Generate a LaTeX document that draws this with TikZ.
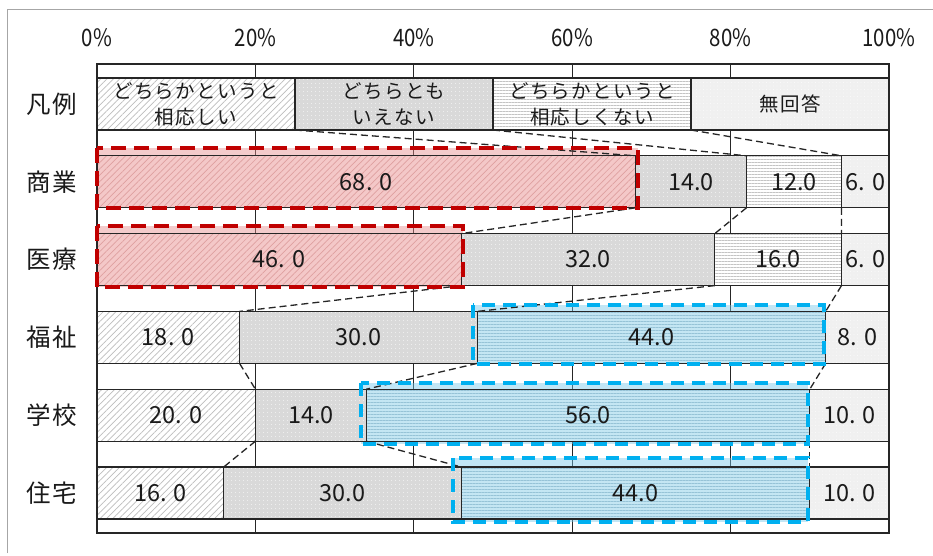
\documentclass[tikz,border=0pt]{standalone}
\usepackage{fontspec}
\setmainfont{Noto Sans CJK JP}
\newfontfamily\lgfont[LetterSpace=7]{Noto Sans CJK JP}
\newfontfamily\rowfont[LetterSpace=6]{Noto Sans CJK JP}
\newfontfamily\axfont[FakeStretch=0.85]{Noto Sans CJK JP}
\usetikzlibrary{patterns.meta}
\definecolor{bdr}{HTML}{262626}
\definecolor{txt}{HTML}{1A1A1A}
\definecolor{hatchc}{HTML}{BDBDBD}
\definecolor{grayB}{HTML}{D9D9D9}
\definecolor{grayD}{HTML}{F0F0F0}
\definecolor{hlines}{HTML}{C4C4C4}
\definecolor{framec}{HTML}{A6A6A6}
\definecolor{redc}{HTML}{C00000}
\definecolor{bluec}{HTML}{00B0F0}
\definecolor{pinkf}{RGB}{230,140,140}
\definecolor{bluef}{RGB}{120,200,235}
\definecolor{pinkbar}{RGB}{244,200,200}
\definecolor{pinkhatch}{RGB}{222,160,160}
\definecolor{bluebar}{RGB}{196,230,243}
\definecolor{bluehatch}{RGB}{150,195,215}
\newcommand\seg[6]{%
  \node[#5, anchor=west, minimum width={#3pt-#2pt}, minimum height=52pt] (#1) at (#2,#4) {#6};}
\begin{document}
\begin{tikzpicture}[x=1pt,y=-1pt,
  segbase/.style={draw=bdr, line width=1.3pt, inner sep=0pt, outer sep=0pt, text=txt,
    align=center, font=\fontsize{23.5}{27}\selectfont},
  cA/.style={segbase, preaction={fill=white},
    pattern={Lines[angle=45,distance=4.5pt,line width=0.7pt]}, pattern color=hatchc},
  cB/.style={segbase, preaction={fill=grayB},
    pattern={Dots[distance=4pt,radius=0.55pt]}, pattern color=white},
  cC/.style={segbase, preaction={fill=white},
    pattern={Lines[angle=0,distance=3pt,line width=0.6pt]}, pattern color=hlines},
  cD/.style={segbase, preaction={fill=grayD},
    pattern={Dots[distance=3.5pt,radius=0.45pt]}, pattern color=white},
  hA/.style={segbase, preaction={fill=pinkbar},
    pattern={Lines[angle=45,distance=4.5pt,line width=0.7pt]}, pattern color=pinkhatch},
  hC/.style={segbase, preaction={fill=bluebar},
    pattern={Lines[angle=0,distance=3pt,line width=0.6pt]}, pattern color=bluehatch},
  lgt/.style={font=\lgfont\fontsize{19.5}{26}\selectfont},
  rowlab/.style={text=txt, font=\rowfont\fontsize{24.5}{24.5}\selectfont},
  axlab/.style={text=txt, font=\axfont\fontsize{24}{24}\selectfont},
  conn/.style={draw=bdr, line width=1.3pt, dash pattern=on 7pt off 4pt},
  redband/.style={fill=pinkf, fill opacity=0.45},
  blueband/.style={fill=bluef, fill opacity=0.45},
  redframe/.style={draw=redc, line width=3.8pt, dash pattern=on 15pt off 8pt},
  blueframe/.style={draw=bluec, line width=3.8pt, dash pattern=on 13pt off 8pt}]
\useasboundingbox (0,0) rectangle (933,555);
\fill[white] (0,0) rectangle (933,555);
% outer frame
\draw[framec, line width=1pt] (7,553) -- (7,9) -- (933,9);
% axis labels
\node[axlab] (ax0) at (97,38) {0\%};
\node[axlab] (ax20) at (255.4,38) {20\%};
\node[axlab] (ax40) at (413.8,38) {40\%};
\node[axlab] (ax60) at (572.2,38) {60\%};
\node[axlab] (ax80) at (730.6,38) {80\%};
\node[axlab] (ax100) at (889,38) {100\%};
% grid
\foreach \gx in {255.4,413.8,572.2,730.6}
  \draw[bdr, line width=1.1pt] (\gx,64) -- (\gx,533);
\draw[bdr, line width=1.5pt] (97,64) rectangle (889,533);
% highlight bands (behind bars)
\fill[redband] (97,148) rectangle (638,208);
\fill[redband] (97,226) rectangle (463,287);
\fill[blueband] (473,305) rectangle (824,364);
\fill[blueband] (361,383) rectangle (808,444);
\fill[blueband] (453,458) rectangle (808,522);
% row labels
\node[rowlab] (r0) at (52,104) {凡例};
\node[rowlab] (r1) at (52,181.8) {商業};
\node[rowlab] (r2) at (52,259.6) {医療};
\node[rowlab] (r3) at (52,337.4) {福祉};
\node[rowlab] (r4) at (52,415.2) {学校};
\node[rowlab] (r5) at (52,493) {住宅};
% legend row
\seg{n01}{97}{295}{104}{cA,lgt}{どちらかというと\\相応しい}
\seg{n02}{295}{493}{104}{cB,lgt}{どちらとも\\いえない}
\seg{n03}{493}{691}{104}{cC,lgt}{どちらかというと\\相応しくない}
\seg{n04}{691}{889}{104}{cD,lgt}{無回答}
% row 1 商業
\seg{n11}{97}{635.56}{181.8}{hA}{68. 0}
\seg{n12}{635.56}{746.44}{181.8}{cB}{14.0}
\seg{n13}{746.44}{841.48}{181.8}{cC}{12.0}
\seg{n14}{841.48}{889}{181.8}{cD}{6. 0}
% row 2 医療
\seg{n21}{97}{461.32}{259.6}{hA}{46. 0}
\seg{n22}{461.32}{714.76}{259.6}{cB}{32.0}
\seg{n23}{714.76}{841.48}{259.6}{cC}{16.0}
\seg{n24}{841.48}{889}{259.6}{cD}{6. 0}
% row 3 福祉
\seg{n31}{97}{239.56}{337.4}{cA}{18. 0}
\seg{n32}{239.56}{477.16}{337.4}{cB}{30.0}
\seg{n33}{477.16}{825.64}{337.4}{hC}{44.0}
\seg{n34}{825.64}{889}{337.4}{cD}{8. 0}
% row 4 学校
\seg{n41}{97}{255.4}{415.2}{cA}{20. 0}
\seg{n42}{255.4}{366.28}{415.2}{cB}{14.0}
\seg{n43}{366.28}{809.8}{415.2}{hC}{56.0}
\seg{n44}{809.8}{889}{415.2}{cD}{10. 0}
% row 5 住宅
\seg{n51}{97}{223.72}{493}{cA}{16. 0}
\seg{n52}{223.72}{461.32}{493}{cB}{30.0}
\seg{n53}{461.32}{809.8}{493}{hC}{44.0}
\seg{n54}{809.8}{889}{493}{cD}{10. 0}
% connectors
\foreach \a/\b in {0/1,1/2,2/3,3/4,4/5}{
  \foreach \k in {1,2,3}{
    \draw[conn] (n\a\k.south east) -- (n\b\k.north east);
  }
}
% highlight frames
\draw[redframe] (97,148) rectangle (638,208);
\draw[redframe] (97,226) rectangle (463,287);
\draw[blueframe] (473,305) rectangle (824,364);
\draw[blueframe] (361,383) rectangle (808,444);
\draw[blueframe] (453,458) rectangle (808,522);
\end{tikzpicture}
\end{document}
